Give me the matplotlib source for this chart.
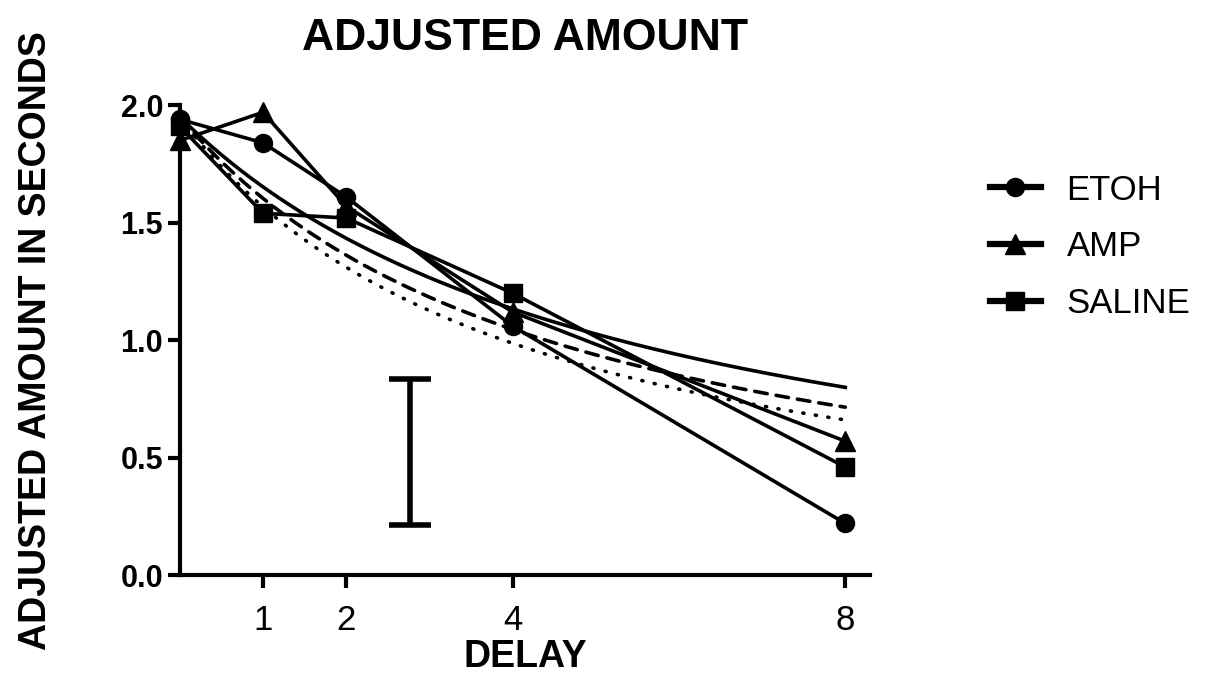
import numpy as np
import matplotlib.pyplot as plt

plt.rcParams['font.family'] = ['Liberation Sans', 'DejaVu Sans']

# delay (s) and mean adjusted amount per group
delay = [0, 1, 2, 4, 8]
etoh = [1.94, 1.84, 1.61, 1.06, 0.22]
amp = [1.85, 1.97, 1.57, 1.12, 0.57]
saline = [1.91, 1.54, 1.52, 1.20, 0.46]

# hyperbolic discounting curves  V = A / (1 + k*D)
fit_A = [1.95, 1.95, 1.95]
fit_k = [0.18, 0.216, 0.244]
fit_styles = ['-', (0, (3.5, 2.5)), (0, (0.3, 3.2))]

# representative error bar
sem_x = 2.77
sem_y = 0.525
sem_err = 0.31

fig = plt.figure(figsize=(12.07, 6.79), dpi=100)
ax = fig.add_axes([0.149, 0.153, 0.572, 0.692])

xx = np.linspace(0, 8, 200)
for A, k, ls in zip(fit_A, fit_k, fit_styles):
    ax.plot(xx, A / (1 + k * xx), color='black', lw=2.6, linestyle=ls,
            dash_capstyle='round')

ax.plot(delay, etoh, '-o', color='black', lw=2.6, ms=13, label='ETOH', clip_on=False)
ax.plot(delay, amp, '-^', color='black', lw=2.6, ms=14, label='AMP', clip_on=False)
ax.plot(delay, saline, '-s', color='black', lw=2.6, ms=13, label='SALINE', clip_on=False)

ax.errorbar([sem_x], [sem_y], yerr=[sem_err], fmt='none', ecolor='black',
            elinewidth=4, capsize=15, capthick=4)

ax.set_xlim(0, 8.3)
ax.set_ylim(0, 2.0)
ax.set_xticks([1, 2, 4, 8])
ax.set_yticks([0.0, 0.5, 1.0, 1.5, 2.0])
ax.set_yticklabels(['0.0', '0.5', '1.0', '1.5', '2.0'], fontweight='bold')
ax.tick_params(axis='y', labelsize=22, width=3, length=9, pad=3)
ax.tick_params(axis='x', labelsize=25, width=3, length=9, pad=12)

for side in ['top', 'right']:
    ax.spines[side].set_visible(False)
for side in ['left', 'bottom']:
    ax.spines[side].set_linewidth(3)

ax.set_title('ADJUSTED AMOUNT', fontsize=32, fontweight='bold', pad=40)
ax.set_xlabel('DELAY', fontsize=27, fontweight='bold', labelpad=1)
ax.set_ylabel('ADJUSTED AMOUNT IN SECONDS', fontsize=27, fontweight='bold', labelpad=48)

leg = ax.legend(loc='upper left', bbox_to_anchor=(0.806, 0.77), bbox_transform=fig.transFigure,
                frameon=False, fontsize=25, handlelength=1.45, handletextpad=0.75,
                labelspacing=0.68, borderpad=0)
for h in leg.legend_handles:
    h.set_linewidth(4.5)

fig.savefig('out.png', dpi=100)
